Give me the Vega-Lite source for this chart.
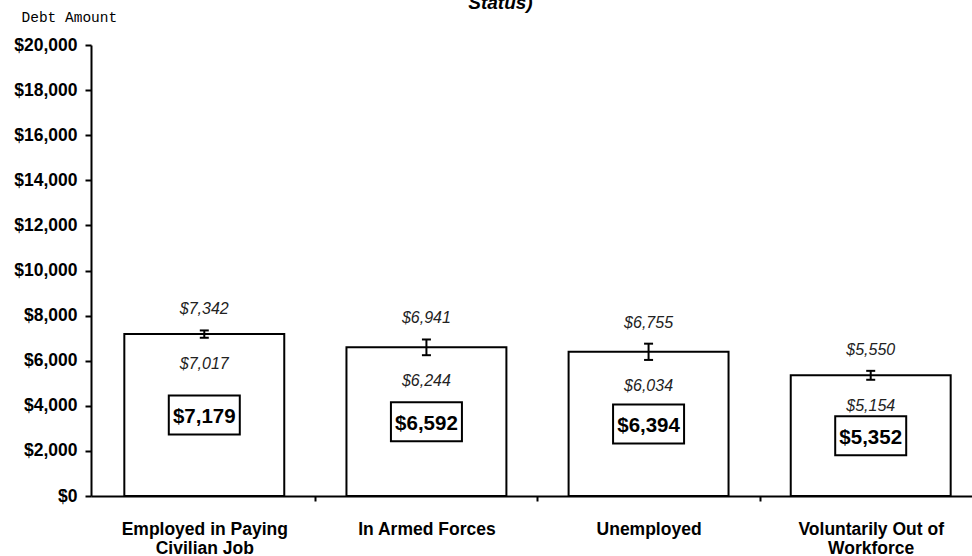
{
  "$schema": "https://vega.github.io/schema/vega-lite/v6.json",
  "autosize": {"type": "none"},
  "width": 893,
  "height": 451,
  "padding": {"left": 91, "top": 45, "right": 0, "bottom": 60},
  "background": "white",
  "title": {"text": "Status)", "font": "Liberation Sans", "fontSize": 19, "fontWeight": "bold", "fontStyle": "italic", "anchor": "middle", "frame": "group", "dx": -37, "dy": 22, "baseline": "alphabetic", "offset": 3, "color": "black"},
  "data": {"values": [
    {"cat": "Employed in Paying|Civilian Job", "mean": 7179, "lower": 7017, "upper": 7342},
    {"cat": "In Armed Forces", "mean": 6592, "lower": 6244, "upper": 6941},
    {"cat": "Unemployed", "mean": 6394, "lower": 6034, "upper": 6755},
    {"cat": "Voluntarily Out of|Workforce", "mean": 5352, "lower": 5154, "upper": 5550}
  ]},
  "encoding": {
    "x": {"field": "cat", "type": "nominal", "sort": null,
      "scale": {"paddingInner": 0.28, "paddingOuter": 0.15},
      "axis": {"title": null, "labelExpr": "split(datum.label, '|')", "labelAngle": 0, "labelFontSize": 17.5, "labelFontWeight": "bold", "labelPadding": 19, "tickSize": 5, "tickOffset": 111, "labelOffset": -111, "domainWidth": 2, "tickWidth": 2, "labelLineHeight": 19}}
  },
  "layer": [
    {"layer": [
      {"mark": {"type": "bar", "fill": "white", "stroke": "black", "strokeWidth": 2},
       "encoding": {"y": {"field": "mean", "type": "quantitative", "scale": {"domain": [0, 20000]},
         "axis": {"values": [0, 2000, 4000, 6000, 8000, 10000, 12000, 14000, 16000, 18000, 20000], "format": "$,d", "labelFontSize": 17.5, "labelFontWeight": "bold", "labelPadding": 8, "tickSize": 6, "domainWidth": 2, "tickWidth": 2, "title": "Debt Amount", "titleAngle": 0, "titleAlign": "left", "titleBaseline": "alphabetic", "titleX": -70, "titleY": -24, "titleFont": "Liberation Mono", "titleFontSize": 14.5, "titleFontWeight": "normal", "titleColor": "black"}}}},
      {"mark": {"type": "rule", "stroke": "black", "strokeWidth": 2},
       "encoding": {"y": {"field": "lower", "type": "quantitative", "title": "Debt Amount"}, "y2": {"field": "upper"}}},
      {"mark": {"type": "tick", "color": "black", "size": 9, "thickness": 2, "opacity": 1},
       "encoding": {"y": {"field": "upper", "type": "quantitative", "title": "Debt Amount"}}},
      {"mark": {"type": "tick", "color": "black", "size": 9, "thickness": 2, "opacity": 1},
       "encoding": {"y": {"field": "lower", "type": "quantitative", "title": "Debt Amount"}}},
      {"mark": {"type": "text", "font": "Liberation Sans", "fontStyle": "italic", "fontSize": 16, "color": "#222", "dy": -21, "baseline": "middle"},
       "encoding": {"y": {"field": "upper", "type": "quantitative", "title": "Debt Amount"}, "text": {"field": "upper", "type": "quantitative", "format": "$,d"}}},
      {"mark": {"type": "text", "font": "Liberation Sans", "fontStyle": "italic", "fontSize": 16, "color": "#222", "dy": 26, "baseline": "middle"},
       "encoding": {"y": {"field": "lower", "type": "quantitative", "title": "Debt Amount"}, "text": {"field": "lower", "type": "quantitative", "format": "$,d"}}}
    ]},
    {"layer": [
      {"mark": {"type": "point", "shape": "M-1,-0.55H1V0.55H-1Z", "size": 5041, "filled": false, "stroke": "black", "strokeWidth": 2, "opacity": 1},
       "encoding": {"y": {"field": "mean", "type": "quantitative", "scale": {"domain": [0, 40000]}, "axis": null}}},
      {"mark": {"type": "text", "font": "Liberation Sans", "fontSize": 20.5, "fontWeight": "bold", "color": "black", "baseline": "middle", "dy": 2},
       "encoding": {"y": {"field": "mean", "type": "quantitative", "axis": null}, "text": {"field": "mean", "type": "quantitative", "format": "$,d"}}}
    ]}
  ],
  "resolve": {"scale": {"y": "independent"}},
  "config": {
    "view": {"stroke": null},
    "axis": {"grid": false, "domainColor": "black", "tickColor": "black", "labelColor": "black", "labelFont": "Liberation Sans"}
  }
}
